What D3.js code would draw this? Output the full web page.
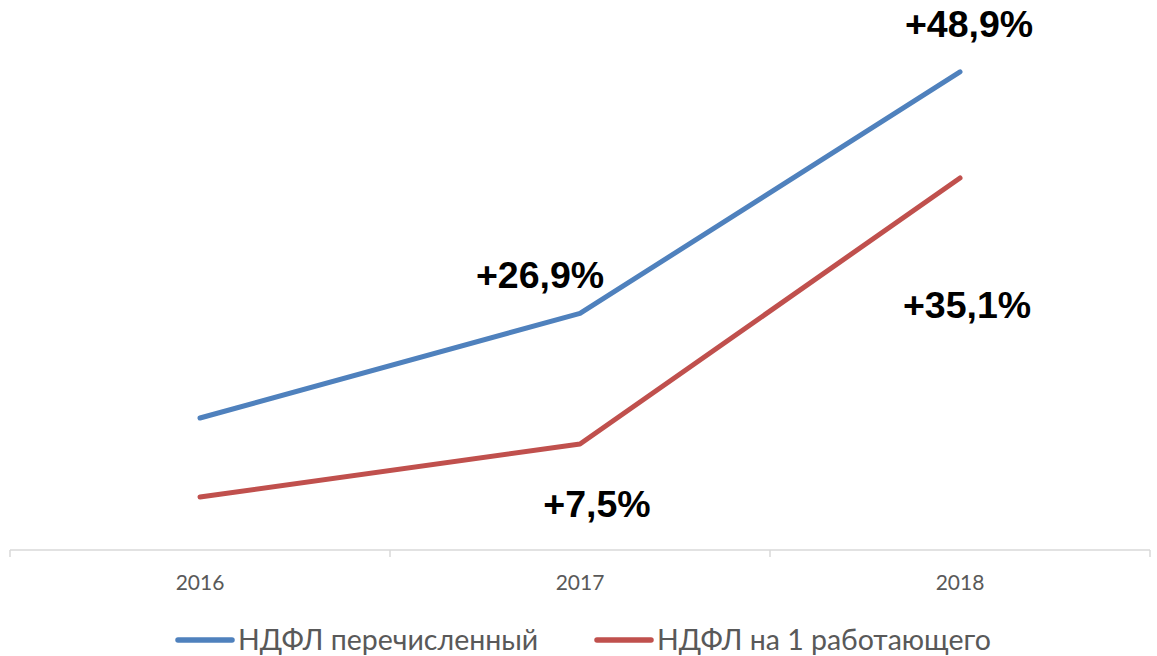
<!DOCTYPE html>
<html>
<head>
<meta charset="utf-8">
<script src="https://cdnjs.cloudflare.com/ajax/libs/d3/7.8.5/d3.min.js"></script>
<style>
  body { margin: 0; background: #fff; }
  svg { display: block; }
</style>
</head>
<body>
<script>
// data (index, 2016 = 100)
var years = ["2016", "2017", "2018"];
var ndflTotal = [100, 126.9, 189.0];
var ndflPerWorker = [100, 107.5, 145.2];
var totalLabels = [null, "+26,9%", "+48,9%"];
var perWorkerLabels = [null, "+7,5%", "+35,1%"];
var seriesNames = ["НДФЛ перечисленный", "НДФЛ на 1 работающего"];

var W = 1157, H = 656;
var axisY = 550;

var svg = d3.select("body").append("svg")
    .attr("width", W)
    .attr("height", H);

var x = d3.scaleBand().domain(years).range([10, 1150]);
// two value axes (hidden), like the source chart
var yTotal = d3.scaleLinear().domain([66.3, 207.5]).range([549, 0]);
var yWorker = d3.scaleLinear().domain([92.63, 170.42]).range([549, 0]);

var cx = function(d, i) { return x(years[i]) + x.bandwidth() / 2; };

// category axis
var axis = svg.append("g").attr("transform", "translate(0," + axisY + ")");
axis.append("line")
    .attr("x1", x.range()[0]).attr("x2", x.range()[1])
    .attr("stroke", "#d9d9d9").attr("stroke-width", 1.5);
var bounds = years.map(function(d) { return x(d); }).concat([x.range()[1]]);
axis.selectAll("line.tick").data(bounds).enter().append("line")
    .attr("class", "tick")
    .attr("x1", function(d) { return d; }).attr("x2", function(d) { return d; })
    .attr("y1", 0).attr("y2", 7)
    .attr("stroke", "#d9d9d9").attr("stroke-width", 1.5);
axis.selectAll("text").data(years).enter().append("text")
    .attr("x", function(d) { return x(d) + x.bandwidth() / 2; })
    .attr("y", 40)
    .attr("text-anchor", "middle")
    .style("font-family", "Lato, 'Open Sans', sans-serif")
    .style("font-size", "21px")
    .style("fill", "#595959")
    .text(function(d) { return d; });

var series = [
  { values: ndflTotal, y: yTotal, color: "#4f81bd", labels: totalLabels,
    off: [null, [-40, -25], [9, -35]] },
  { values: ndflPerWorker, y: yWorker, color: "#c0504d", labels: perWorkerLabels,
    off: [null, [17, 73], [7, 140]] }
];

series.forEach(function(s) {
  var line = d3.line()
      .x(cx)
      .y(function(d) { return s.y(d); });
  svg.append("path")
      .datum(s.values)
      .attr("d", line)
      .attr("fill", "none")
      .attr("stroke", s.color)
      .attr("stroke-width", 5)
      .attr("stroke-linecap", "round")
      .attr("stroke-linejoin", "round");

  svg.selectAll(null).data(s.values).enter()
      .filter(function(d, i) { return s.labels[i]; })
      .append("text")
      .attr("x", function(d) { var k = s.values.indexOf(d); return cx(d, k) + s.off[k][0]; })
      .attr("y", function(d) { var k = s.values.indexOf(d); return s.y(d) + s.off[k][1]; })
      .attr("text-anchor", "middle")
      .style("font-family", "'Liberation Sans', Arial, sans-serif")
      .style("font-weight", "bold")
      .style("font-size", "37.5px")
      .style("fill", "#000")
      .text(function(d) { return s.labels[s.values.indexOf(d)]; });
});

// legend
var legendX = [178, 597];
var legend = svg.selectAll("g.legend").data(series).enter().append("g")
    .attr("class", "legend")
    .attr("transform", function(d, i) { return "translate(" + legendX[i] + ",640)"; });
legend.append("line")
    .attr("x1", 0).attr("x2", 54)
    .attr("stroke", function(d) { return d.color; })
    .attr("stroke-width", 5.5)
    .attr("stroke-linecap", "round");
legend.append("text")
    .attr("x", 60)
    .attr("y", 9.5)
    .style("font-family", "Lato, 'Open Sans', sans-serif")
    .style("font-size", "28.5px")
    .style("fill", "#595959")
    .text(function(d, i) { return seriesNames[i]; });
</script>
</body>
</html>
